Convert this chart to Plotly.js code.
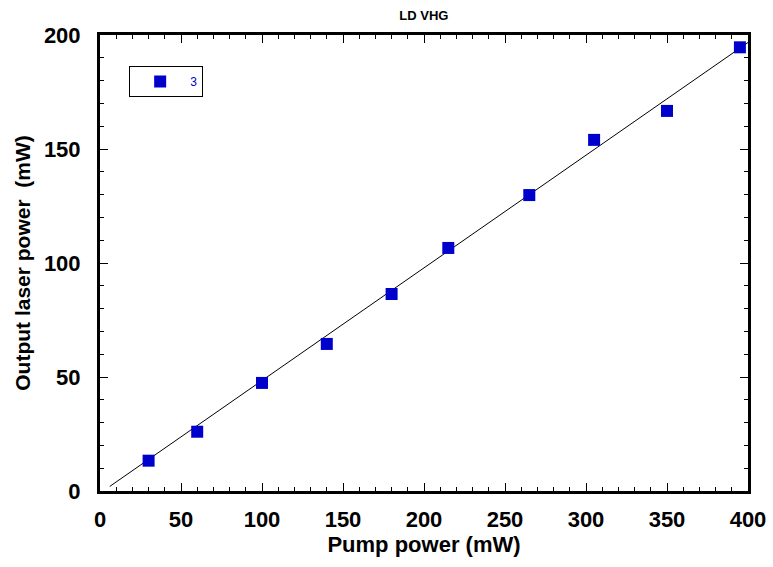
<!DOCTYPE html>
<html><head><meta charset="utf-8">
<script src="https://cdn.plot.ly/plotly-3.0.1.min.js"></script>
<style>html,body{margin:0;padding:0;background:#fff;}</style>
</head><body>
<div id="chart" style="width:773px;height:567px;"></div>
<script>
const pumpPower = [30, 60, 100, 140, 180, 215, 265, 305, 350, 395];
const outputPower = [13.3, 26, 47.4, 64.5, 86.4, 106.6, 129.8, 154, 166.7, 194.6];
const fitX = [6, 400];
const fitY = [2.0, 196.7];
const seriesName = '3';
const chartTitle = 'LD VHG';
const xTitle = 'Pump power (mW)';
const yTitle = 'Output laser power  (mW)';

const font = 'Arial, "Liberation Sans", sans-serif';
const traces = [
  {x: fitX, y: fitY, mode: 'lines', line: {color: '#000', width: 1}, showlegend: false, hoverinfo: 'skip'},
  {x: pumpPower, y: outputPower, mode: 'markers', name: seriesName,
   marker: {symbol: 'square', size: 12, color: '#0000cc'}}
];
const axisCommon = {
  showline: true, linecolor: '#000', linewidth: 3, mirror: 'ticks',
  ticks: 'inside', ticklen: 8, tickwidth: 1, tickcolor: '#000',
  showgrid: false, zeroline: false,
  tickfont: {family: font, size: 22, color: '#000', weight: 'bold'}
};
const layout = {
  width: 773, height: 567,
  margin: {l: 100, r: 25, t: 35, b: 76},
  paper_bgcolor: '#fff', plot_bgcolor: '#fff',
  title: {text: chartTitle, font: {family: font, size: 13, color: '#000', weight: 'bold'}, x: 0.5483, xanchor: 'center', y: 0.972, yanchor: 'middle'},
  xaxis: Object.assign({}, axisCommon, {
    range: [0, 400], dtick: 50, tick0: 0, ticklabelstandoff: 7,
    minor: {dtick: 10, ticks: 'inside', ticklen: 4, tickcolor: '#000', tickwidth: 1},
    title: {text: xTitle, font: {family: font, size: 22, color: '#000', weight: 'bold'}, standoff: 2}
  }),
  yaxis: Object.assign({}, axisCommon, {
    range: [0, 200], dtick: 50, tick0: 0, ticklabelstandoff: 12,
    minor: {dtick: 10, ticks: 'inside', ticklen: 4, tickcolor: '#000', tickwidth: 1},
    title: {text: yTitle, font: {family: font, size: 21, color: '#000', weight: 'bold'}, standoff: 8}
  }),
  showlegend: true,
  legend: {x: 0.045, y: 0.932, xanchor: 'left', yanchor: 'top', bordercolor: '#000', borderwidth: 1,
    bgcolor: '#fff', itemwidth: 50, font: {family: font, size: 12, color: '#0000cc'}},
  hovermode: false
};
Plotly.newPlot('chart', traces, layout, {displayModeBar: false, staticPlot: true});
</script>
</body></html>
